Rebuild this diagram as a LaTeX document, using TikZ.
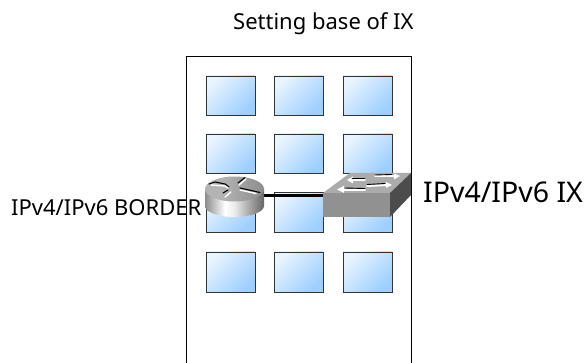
\documentclass[tikz,border=0pt]{standalone}
\usepackage{fontspec}
\setmainfont{Noto Sans}
\definecolor{winA}{RGB}{232,244,255}
\definecolor{winB}{RGB}{158,207,255}
\pgfdeclarehorizontalshading{rtrside}{100bp}{
  color(0bp)=(black!45);color(25bp)=(black!45);color(42bp)=(white);color(50bp)=(black!8);color(75bp)=(black!60);color(100bp)=(black!60)}
\pgfdeclarehorizontalshading{rtrtop}{100bp}{
  color(0bp)=(black!28);color(40bp)=(black!30);color(75bp)=(black!45);color(100bp)=(black!45)}
\begin{document}
\begin{tikzpicture}[x=1pt,y=-1pt,
  windowpane/.style={draw=black!80,line width=0.9pt,left color=winA,right color=winB,shading angle=45},
  lbl/.style={inner sep=0pt,anchor=base west,text=black},
  blackmark/.style={line width=1.1pt,black,line cap=round},
  whitemark/.style={line width=1.4pt,white,line cap=round},
  whitehead/.style={white,draw=none}]
\useasboundingbox (0,0) rectangle (587,363);
\fill[white] (0,0) rectangle (587,363);
\foreach \x/\w in {206/49,274/49,343/49}
  \foreach \y/\h in {76/39,134/39,192.5/39.5,252/40}
    \draw[windowpane] (\x,\y) rectangle ++(\w,\h);
% labels
\node[lbl,font=\fontsize{22}{26}\selectfont] (title) at (233,30) {Setting base of IX};
\node[lbl,font=\fontsize{22}{26}\selectfont] (bord) at (11,216) {IPv4/IPv6 BORDER};
\node[lbl,font=\fontsize{28.5}{32}\selectfont] (ix) at (423,203) {IPv4/IPv6 IX};
\draw[black,line width=0.9pt] (186.5,363) -- (186.5,56) -- (411,56) -- (411,363);
% link
\node[minimum width=59pt,minimum height=41pt,inner sep=0pt] (router) at (234.5,196.5) {};
\node[minimum width=88pt,minimum height=44pt,inner sep=0pt] (switch) at (367,195) {};
\draw[black,line width=3pt] (router.east |- 0,195.7) -- (switch.west |- 0,195.7);
% router
\path[shading=rtrside]
  (205,189) -- (205,206) arc[x radius=29.5,y radius=11,start angle=180,end angle=0] -- (264,189) -- cycle;
\path[shading=rtrtop] (234.5,189) ellipse[x radius=29.5,y radius=12.5];
\draw[blackmark] (209,184) -- (215,182) -- (225,184) -- (229,187);
\draw[blackmark] (223,193) -- (228,190);
\draw[blackmark] (238,183) -- (245,177.5);
\draw[blackmark] (240,188) -- (260,192.5);
\draw[whitemark] (211,185) -- (225,186) -- (228,188);
\draw[whitemark] (225,197) -- (231,192);
\draw[whitemark] (239,185) -- (246,179);
\draw[whitemark] (240,190) -- (256,193.5);
% switch
\fill[black!43] (323,193) rectangle (390,217);
\fill[black!33] (323,193) -- (350,173) -- (411,173) -- (390,193) -- cycle;
\fill[black!70] (390,193) -- (411,173) -- (411,195) -- (390,217) -- cycle;
\draw[whitemark,line width=2pt] (350,180) -- (365,180);
\fill[whitehead] (347,180) -- (353,176.5) -- (353,183.5) -- cycle;
\draw[whitemark,line width=2pt] (375,176.5) -- (395,176.5);
\fill[whitehead] (400,176) -- (394,173.5) -- (394,179.5) -- cycle;
\draw[whitemark,line width=2pt] (341,190) -- (365,190);
\fill[whitehead] (337,189.5) -- (344,186) -- (344,193) -- cycle;
\draw[whitemark,line width=2pt] (367,186) -- (387,185);
\fill[whitehead] (392,185) -- (386,182) -- (386,188) -- cycle;
\draw[blackmark,line width=0.9pt] (352,178) -- (365,178);
\draw[blackmark,line width=0.9pt] (375,175) -- (392,174.5);
\draw[blackmark,line width=0.9pt] (345,188) -- (365,188.5);
\draw[blackmark,line width=0.9pt] (367,184.5) -- (385,183.5);
\end{tikzpicture}
\end{document}
